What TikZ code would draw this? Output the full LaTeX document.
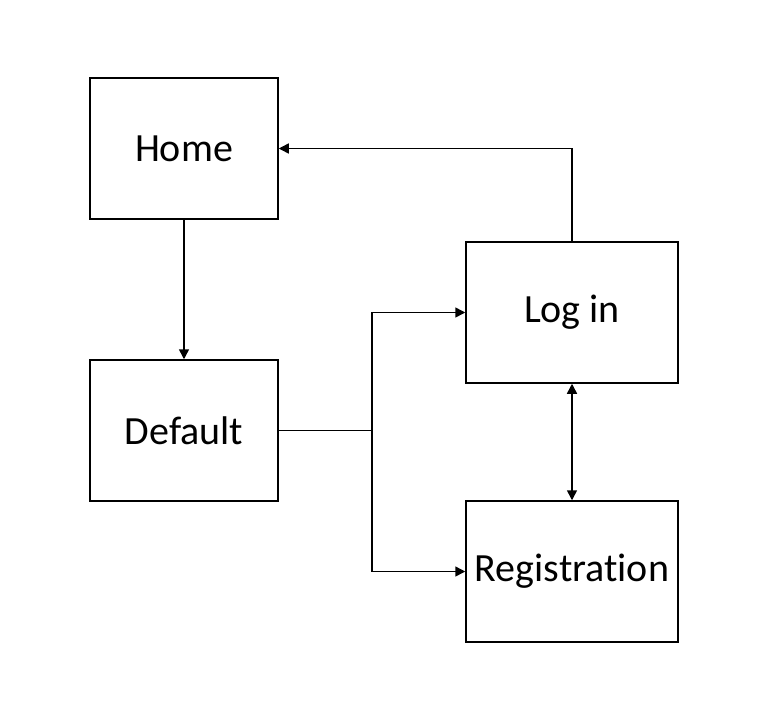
\documentclass[tikz,border=0pt]{standalone}
\usepackage{fontspec}
\setmainfont{Carlito}[Ligatures=NoCommon]
\usetikzlibrary{arrows.meta}
\begin{document}
\begin{tikzpicture}[x=1pt,y=-1pt,
  box/.style={draw,line width=1.5pt,inner sep=0pt,font=\fontsize{40}{48}\selectfont},
  conn/.style={line width=1.5pt},
  tip/.style={-{Triangle[length=10pt,width=10pt]}}]
\useasboundingbox (0,0) rectangle (774,726);
\node[box,minimum width=188pt,minimum height=141pt] (home) at (184,148.5) {Home};
\node[box,minimum width=188pt,minimum height=141pt] (default) at (184,430.5) {Default};
\node[box,minimum width=212pt,minimum height=141pt] (login) at (572,312.5) {Log in};
\node[box,minimum width=212pt,minimum height=141pt] (reg) at (572,571.5) {Registration};
\coordinate (j) at (372,430.5);
\draw[conn,tip] (home.south) -- (default.north);
\draw[conn,tip] (login.north) |- (home.east);
\draw[conn] (default.east) -- (j);
\draw[conn,tip] (j) |- (login.west);
\draw[conn,tip] (j) |- (reg.west);
\draw[conn,{Triangle[length=10pt,width=10pt]}-{Triangle[length=10pt,width=10pt]}] (login.south) -- (reg.north);
\end{tikzpicture}
\end{document}
